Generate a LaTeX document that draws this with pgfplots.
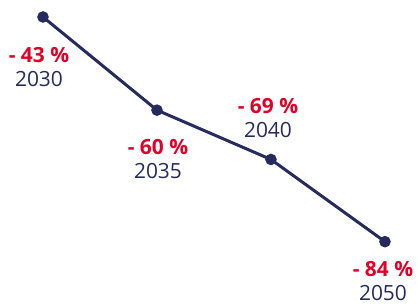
\documentclass[border=0pt]{standalone}
\usepackage{pgfplots}
\pgfplotsset{compat=1.18}
\usepackage{fontspec}
\setmainfont{Open Sans}
\definecolor{navy}{RGB}{38,42,92}
\definecolor{myred}{RGB}{226,0,40}
\begin{document}
\begin{tikzpicture}
\begin{axis}[scale only axis, width=417bp, height=306bp, hide axis, clip=false,
  xmin=-0.377, xmax=3.281, ymin=-95.74, ymax=-39.9]
\addplot[navy, line width=3bp, mark=*, mark size=4.2bp] coordinates {(0,-43) (1,-60) (2,-69) (3,-84)};
\addplot[draw=none, mark=none, point meta=explicit symbolic,
  visualization depends on={value \thisrow{yr}\as\yr},
  visualization depends on={\thisrow{dx}\as\dx},
  visualization depends on={\thisrow{dy}\as\dy},
  nodes near coords={\textcolor{myred}{\bfseries - \pgfplotspointmeta{} \%}\\\textcolor{navy}{\yr}},
  every node near coord/.append style={anchor=center, xshift=\dx bp, yshift=\dy bp, align=center,
    font=\fontsize{21}{24.5}\selectfont, inner sep=0pt}]
table[meta=v] {
x y v yr dx dy
0 -43 43 2030 -4 -50
1 -60 60 2035 1 -49
2 -69 69 2040 -3 41.5
3 -84 84 2050 -2 -39.5
};
\end{axis}
\pgfresetboundingbox
\path (0,0) rectangle (417bp,306bp);
\end{tikzpicture}
\end{document}
